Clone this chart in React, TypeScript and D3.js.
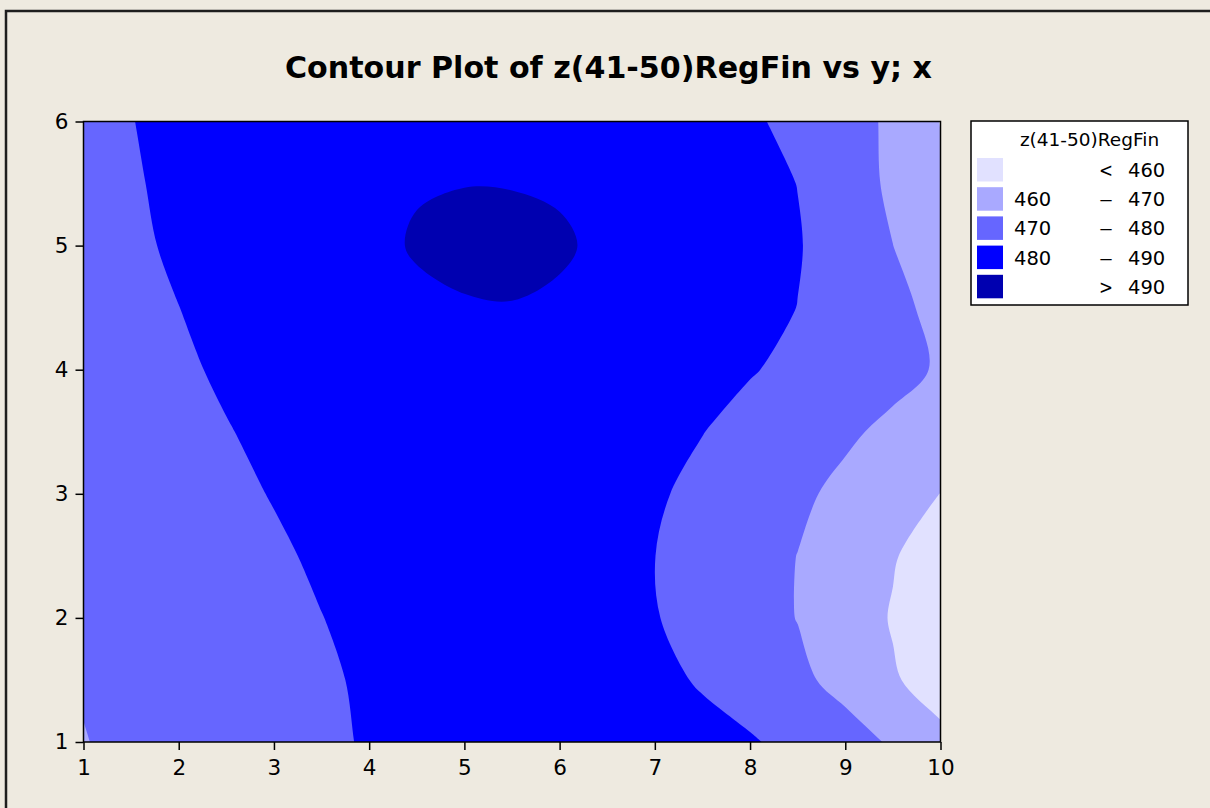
import React, { useRef, useEffect } from 'react'
import * as d3 from 'd3'

const xGrid = [1, 1.5, 2, 2.5, 3, 3.5, 4, 4.5, 5, 5.5, 6, 6.5, 7, 7.5, 8, 8.5, 9, 9.5, 10]
const yGrid = [1, 1.5, 2, 2.5, 3, 3.5, 4, 4.5, 5, 5.5, 6]

// z(41-50)RegFin, one array per y row (bottom to top), one value per x column
const zAtY10 = [469.8, 471.3, 473.0, 474.8, 476.7, 478.7, 480.6, 482.2, 483.4, 484.1, 484.3, 484.0, 483.2, 482.0, 480.8, 477.5, 473.5, 469.0, 462.5]
const zAtY15 = [470.4, 472.6, 474.4, 476.0, 477.6, 479.2, 480.8, 482.3, 483.4, 484.0, 484.0, 483.2, 481.6, 479.4, 475.8, 471.8, 467.3, 461.0, 455.5]
const zAtY20 = [471.5, 473.0, 474.6, 476.3, 478.1, 479.9, 481.6, 483.0, 484.0, 484.5, 484.3, 483.0, 480.4, 477.0, 473.2, 469.8, 465.5, 459.3, 453.0]
const zAtY25 = [472.5, 474.0, 475.6, 477.3, 479.1, 480.9, 482.6, 484.0, 485.0, 485.4, 485.0, 483.4, 480.05, 476.5, 473.0, 469.9, 466.0, 460.7, 455.0]
const zAtY30 = [473.5, 475.1, 476.8, 478.6, 480.3, 482.0, 483.5, 484.7, 485.6, 486.0, 485.6, 484.2, 481.2, 477.5, 474.2, 471.4, 468.2, 464.5, 459.9]
const zAtY35 = [474.3, 476.2, 478.0, 479.7, 481.4, 482.9, 484.2, 485.3, 486.1, 486.5, 486.3, 485.3, 483.3, 480.2, 476.8, 474.0, 471.2, 468.3, 465.5]
const zAtY40 = [475.2, 477.2, 479.0, 480.9, 482.5, 483.9, 485.2, 486.3, 487.0, 487.4, 487.2, 486.5, 485.0, 483.0, 480.6, 477.8, 475.0, 472.4, 469.2]
const zAtY45 = [476.0, 478.2, 479.95, 481.9, 483.6, 485.2, 486.7, 489.1, 489.6, 489.8, 489.3, 487.8, 486.4, 484.7, 482.7, 479.9, 476.3, 472.0, 467.8]
const zAtY50 = [476.3, 478.8, 481.0, 483.2, 485.2, 487.0, 488.8, 490.4, 491.4, 491.6, 490.6, 489.0, 487.3, 485.5, 483.5, 480.5, 476.0, 470.05, 464.0]
const zAtY55 = [476.5, 479.3, 481.6, 483.7, 485.5, 487.0, 488.3, 489.7, 489.9, 489.8, 489.5, 487.6, 486.0, 484.3, 482.4, 479.9, 474.2, 468.5, 462.0]
const zAtY60 = [476.8, 479.8, 482.2, 484.2, 485.8, 487.0, 487.9, 488.4, 488.6, 488.4, 487.8, 486.6, 485.0, 483.2, 481.2, 477.8, 473.6, 468.4, 459.7]

const zRows = [zAtY10, zAtY15, zAtY20, zAtY25, zAtY30, zAtY35, zAtY40, zAtY45, zAtY50, zAtY55, zAtY60]

const levels = [460, 470, 480, 490]
const bandColors = ['#E1E1FF', '#A9A9FF', '#6666FF', '#0000FF', '#0000B0']
const legendTitle = 'z(41-50)RegFin'
const legendLow = ['', '460', '470', '480', '']
const legendSign = ['<', '–', '–', '–', '>']
const legendHigh = ['460', '470', '480', '490', '490']

const xTicks = [1, 2, 3, 4, 5, 6, 7, 8, 9, 10]
const yTicks = [1, 2, 3, 4, 5, 6]

const chartTitle = 'Contour Plot of z(41-50)RegFin vs y; x'

const W = 1210
const H = 808
const FONT = '"DejaVu Sans", Verdana, sans-serif'

const ContourPlot = () => {
  const svgRef = useRef(null)

  useEffect(() => {
    const svg = d3.select(svgRef.current)
    svg.selectAll('*').remove()

    const plot = { left: 83.5, right: 940.5, top: 121.5, bottom: 742 }

    const x = d3.scaleLinear().domain([1, 10]).range([plot.left, plot.right])
    const y = d3.scaleLinear().domain([1, 6]).range([plot.bottom, plot.top])

    svg.append('rect').attr('width', W).attr('height', H).attr('fill', '#EEEAE0')

    // outer figure frame
    svg
      .append('path')
      .attr('d', `M6,${H} V11 H${W}`)
      .attr('fill', 'none')
      .attr('stroke', '#1e1e1e')
      .attr('stroke-width', 2.5)

    svg
      .append('text')
      .attr('x', 608.5)
      .attr('y', 78)
      .attr('text-anchor', 'middle')
      .attr('font-family', FONT)
      .attr('font-weight', 'bold')
      .attr('font-size', 31)
      .attr('textLength', 647)
      .attr('lengthAdjust', 'spacingAndGlyphs')
      .attr('fill', '#000')
      .text(chartTitle)

    svg
      .append('defs')
      .append('clipPath')
      .attr('id', 'plot-clip')
      .append('rect')
      .attr('x', plot.left)
      .attr('y', plot.top)
      .attr('width', plot.right - plot.left)
      .attr('height', plot.bottom - plot.top)

    // contours
    const nx = xGrid.length
    const ny = yGrid.length
    const values = zRows.flatMap((row) => row)
    const bands = d3.contours().size([nx, ny]).thresholds(levels)(values)

    const dx = xGrid[1] - xGrid[0]
    const dy = yGrid[1] - yGrid[0]
    // d3.contours puts value i at grid coordinate i + 0.5
    const gx = (c) => x(xGrid[0] + (c - 0.5) * dx)
    const gy = (c) => y(yGrid[0] + (c - 0.5) * dy)

    // vertices on the grid's outer border sit outside the plot; push the one next to
    // an edge crossing along the contour's own direction so the smoothed curve
    // meets the plot edge without a kink
    const isOuter = ([cx, cy]) => cx <= 1e-9 || cx >= nx - 1e-9 || cy <= 1e-9 || cy >= ny - 1e-9
    const straightenEdges = (ring) => {
      const n = ring.length
      const out = ring.map((p) => p.slice())
      for (let i = 0; i < n; i++) {
        if (!isOuter(ring[i])) continue
        const pi = (i - 1 + n) % n
        const ni = (i + 1) % n
        const prevIn = !isOuter(ring[pi])
        const nextIn = !isOuter(ring[ni])
        if (prevIn === nextIn) continue
        const Pi = prevIn ? pi : ni
        const Qi = prevIn ? (Pi - 1 + n) % n : (Pi + 1) % n
        const P = ring[Pi]
        const Q = ring[Qi]
        if (isOuter(Q)) continue
        const vx = P[0] - Q[0]
        const vy = P[1] - Q[1]
        const len = Math.hypot(vx, vy) || 1
        out[i] = [P[0] + (vx / len) * 0.6, P[1] + (vy / len) * 0.6]
      }
      return out
    }

    const ringLine = d3.line().curve(d3.curveCatmullRomClosed.alpha(0.5))

    const g = svg.append('g').attr('clip-path', 'url(#plot-clip)')
    g.append('rect')
      .attr('x', plot.left)
      .attr('y', plot.top)
      .attr('width', plot.right - plot.left)
      .attr('height', plot.bottom - plot.top)
      .attr('fill', bandColors[0])

    bands.forEach((band, i) => {
      let d = ''
      band.coordinates.forEach((polygon) => {
        polygon.forEach((ring) => {
          const pts = straightenEdges(ring.slice(0, -1)).map(([cx, cy]) => [gx(cx), gy(cy)])
          d += ringLine(pts)
        })
      })
      g.append('path')
        .attr('d', d)
        .attr('fill', bandColors[i + 1])
        .attr('fill-rule', 'evenodd')
    })

    // axes
    const xAxis = d3
      .axisBottom(x)
      .tickValues(xTicks)
      .tickSize(8)
      .tickPadding(10)
      .tickFormat(d3.format('d'))

    const yAxis = d3
      .axisLeft(y)
      .tickValues(yTicks)
      .tickSize(8)
      .tickPadding(7)
      .tickFormat(d3.format('d'))

    const gxAxis = svg.append('g').attr('transform', `translate(0,${plot.bottom})`).call(xAxis)
    const gyAxis = svg.append('g').attr('transform', `translate(${plot.left},0)`).call(yAxis)
    ;[gxAxis, gyAxis].forEach((ax) => {
      ax.select('.domain').remove()
      ax.selectAll('line').attr('stroke', '#000').attr('stroke-width', 1.5)
      ax.selectAll('text')
        .attr('font-family', FONT)
        .attr('font-size', 21.5)
        .attr('fill', '#000')
    })

    svg
      .append('rect')
      .attr('x', plot.left)
      .attr('y', plot.top)
      .attr('width', plot.right - plot.left)
      .attr('height', plot.bottom - plot.top)
      .attr('fill', 'none')
      .attr('stroke', '#000')
      .attr('stroke-width', 1.5)

    // legend
    const lg = svg.append('g').attr('transform', 'translate(971,121)')
    lg.append('rect')
      .attr('width', 217)
      .attr('height', 184)
      .attr('fill', '#fff')
      .attr('stroke', '#000')
      .attr('stroke-width', 1.5)

    lg.append('text')
      .attr('x', 118.5)
      .attr('y', 25)
      .attr('text-anchor', 'middle')
      .attr('font-family', FONT)
      .attr('font-size', 18.5)
      .attr('fill', '#000')
      .text(legendTitle)

    const rows = lg
      .selectAll('g.row')
      .data(bandColors)
      .enter()
      .append('g')
      .attr('class', 'row')
      .attr('transform', (d, i) => `translate(0,${37 + i * 29.2})`)

    rows
      .append('rect')
      .attr('x', 6)
      .attr('width', 26)
      .attr('height', 23.5)
      .attr('fill', (d) => d)

    const rowText = (sel, xPos, anchor, labels) =>
      sel
        .append('text')
        .attr('x', xPos)
        .attr('y', 19)
        .attr('text-anchor', anchor)
        .attr('font-family', FONT)
        .attr('font-size', 19.5)
        .attr('fill', '#000')
        .text((d, i) => labels[i])

    rowText(rows, 43, 'start', legendLow)
    rowText(rows, 128, 'start', legendSign)
      .attr('textLength', 14)
      .attr('lengthAdjust', 'spacingAndGlyphs')
    rowText(rows, 157, 'start', legendHigh)
  }, [])

  return <svg ref={svgRef} width={W} height={H} style={{ display: 'block' }} />
}

export default function App() {
  return (
    <div style={{ position: 'absolute', left: 0, top: 0, width: W, height: H }}>
      <ContourPlot />
    </div>
  )
}
